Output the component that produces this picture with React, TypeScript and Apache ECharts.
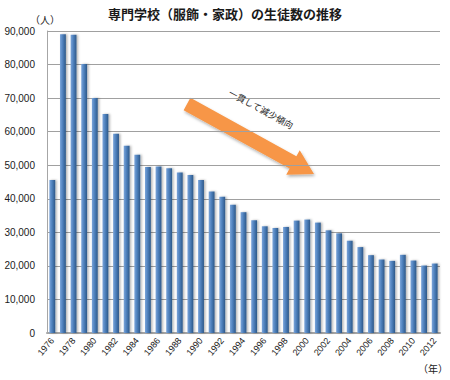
import React, { useEffect, useRef } from "react";
import * as echarts from "echarts";

const years: string[] = [
  "1976","1977","1978","1979","1980","1981","1982","1983","1984","1985",
  "1986","1987","1988","1989","1990","1991","1992","1993","1994","1995",
  "1996","1997","1998","1999","2000","2001","2002","2003","2004","2005",
  "2006","2007","2008","2009","2010","2011","2012",
];
const students: number[] = [
  45600, 89000, 88900, 80200, 70000, 65300, 59400, 55800, 53100, 49500,
  49600, 49100, 47800, 47100, 45600, 42200, 40600, 38200, 36000, 33600,
  31800, 31300, 31600, 33500, 33800, 32900, 30600, 29700, 27500, 25600,
  23200, 21900, 21500, 23300, 21600, 20100, 20700,
];
const titleText = "専門学校（服飾・家政）の生徒数の推移";
const yUnit = "（人）";
const xUnit = "（年）";
const noteText = "一貫して減少傾向";

const JP = '"Noto Sans CJK JP", "Liberation Sans", sans-serif';
const NUM = '"Liberation Sans", Arial, sans-serif';

function arrowPoints(x1: number, y1: number, x2: number, y2: number, hw: number, headLen: number, headHw: number): number[][] {
  const dx = x2 - x1, dy = y2 - y1;
  const L = Math.sqrt(dx * dx + dy * dy);
  const ux = dx / L, uy = dy / L;
  const nx = -uy, ny = ux;
  const bx = x2 - ux * headLen, by = y2 - uy * headLen;
  return [
    [x1 + nx * hw, y1 + ny * hw],
    [bx + nx * hw, by + ny * hw],
    [bx + nx * headHw, by + ny * headHw],
    [x2, y2],
    [bx - nx * headHw, by - ny * headHw],
    [bx - nx * hw, by - ny * hw],
    [x1 - nx * hw, y1 - ny * hw],
  ];
}

export default function App() {
  const ref = useRef<HTMLDivElement>(null);
  useEffect(() => {
    if (!ref.current) return;
    const chart = echarts.init(ref.current, null, { renderer: "svg" });
    chart.setOption({
      animation: false,
      backgroundColor: "#ffffff",
      title: {
        text: titleText,
        left: "center",
        top: 2,
        textStyle: { fontFamily: JP, fontSize: 13, fontWeight: "bold", color: "#1a1a1a" },
      },
      grid: { left: 47, right: 10, top: 31, bottom: 47 },
      xAxis: {
        type: "category",
        data: years,
        axisLine: { show: true, lineStyle: { color: "#a6a6a6", width: 2 } },
        axisTick: { show: false },
        axisLabel: {
          interval: 1,
          rotate: 50,
          fontFamily: NUM,
          fontSize: 9,
          color: "#1a1a1a",
          margin: 6,
        },
      },
      yAxis: {
        type: "value",
        min: 0,
        max: 90000,
        interval: 10000,
        axisLine: { show: true, lineStyle: { color: "#a6a6a6", width: 1 } },
        axisTick: { show: false },
        axisLabel: {
          fontFamily: NUM,
          fontSize: 10,
          color: "#1a1a1a",
          margin: 12,
          formatter: (v: number) => v.toLocaleString("en-US"),
        },
        splitLine: { show: true, lineStyle: { color: "#a0a0a0", width: 1.2 } },
      },
      series: [
        {
          type: "bar",
          data: students,
          barWidth: "55%",
          itemStyle: {
            color: new echarts.graphic.LinearGradient(0, 0, 1, 0, [
              { offset: 0, color: "#7ba5da" },
              { offset: 0.45, color: "#4f81bd" },
              { offset: 1, color: "#2d5888" },
            ]),
            shadowColor: "rgba(0,0,0,0.3)",
            shadowBlur: 2,
            shadowOffsetX: 1.5,
            shadowOffsetY: 0,
          },
        },
      ],
      graphic: [
        {
          type: "text",
          left: 30,
          top: 14,
          style: { text: yUnit, fontFamily: JP, fontSize: 10, fill: "#1a1a1a" },
        },
        {
          type: "text",
          left: 418,
          top: 363,
          style: { text: xUnit, fontFamily: JP, fontSize: 10, fill: "#1a1a1a" },
        },
        {
          type: "polygon",
          shape: { points: arrowPoints(187, 104, 314, 174, 7, 24, 14) },
          style: {
            fill: "#f79646",
            shadowColor: "rgba(0,0,0,0.3)",
            shadowBlur: 3,
            shadowOffsetX: 1,
            shadowOffsetY: 2,
          },
        },
        {
          type: "text",
          x: 261,
          y: 109,
          rotation: -0.5,
          style: {
            text: noteText,
            fontFamily: JP,
            fontSize: 9,
            fill: "#1a1a1a",
            align: "center",
            verticalAlign: "middle",
          },
        },
      ],
    });
    return () => chart.dispose();
  }, []);
  return <div ref={ref} style={{ position: "absolute", left: 0, top: 0, width: 450, height: 380 }} />;
}
